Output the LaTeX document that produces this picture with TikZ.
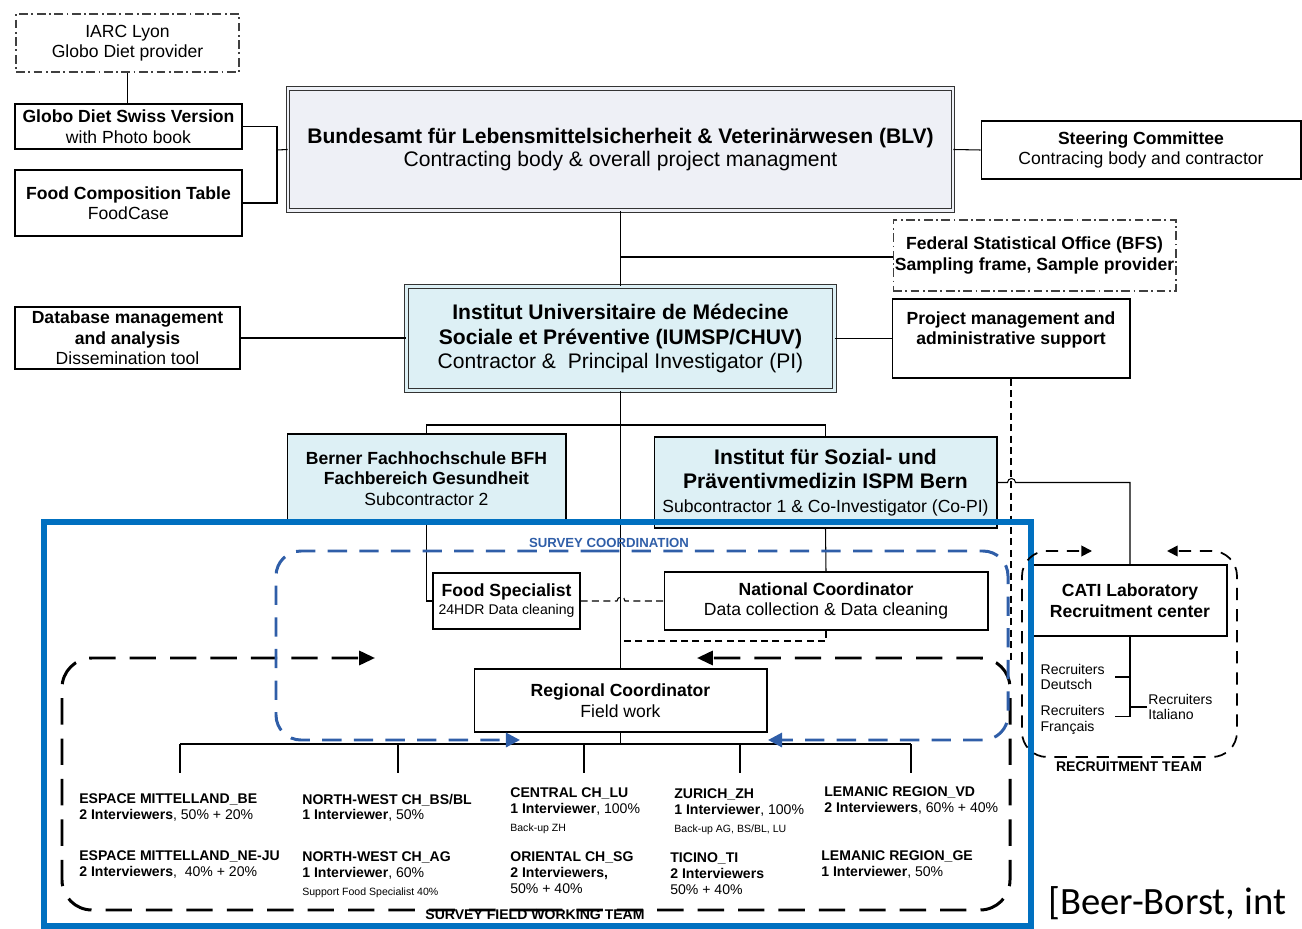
\documentclass[tikz,border=0pt]{standalone}
\usepackage{fontspec}
\setmainfont{Liberation Sans}
\newfontfamily\citefont{Carlito}
\usetikzlibrary{arrows.meta}
\definecolor{blvfill}{RGB}{238,240,246}
\definecolor{instfill}{RGB}{221,240,245}
\definecolor{frameblue}{RGB}{0,112,192}
\definecolor{coordblue}{RGB}{47,94,168}

\tikzset{
  box/.style={draw, line width=0.6pt, inner sep=0pt, align=center, font=\fontsize{10}{11.7}\selectfont},
  dotbox/.style={box, draw=black!75, dash pattern=on 5pt off 2pt on 1pt off 2pt},
  dblbox/.style={box, draw=black!80, double distance=1.4pt},
  conn/.style={line width=0.6pt},
  thindash/.style={conn, dash pattern=on 4pt off 2.5pt},
  regtext/.style={anchor=north west, inner sep=0pt, align=left, font=\fontsize{8}{9}\selectfont},
  rectext/.style={inner ysep=0pt, align=left, font=\fontsize{8}{9}\selectfont},
  teamlabel/.style={inner sep=0pt, font=\fontsize{8}{9}\selectfont\bfseries},
  fieldteam/.style={line width=1.7pt, dash pattern=on 15pt off 8pt, rounded corners=0.6cm},
  coordteam/.style={coordblue, line width=1.7pt, dash pattern=on 11pt off 7pt, rounded corners=0.5cm},
  recteam/.style={line width=1pt, dash pattern=on 7pt off 5pt, rounded corners=0.5cm}
}

\begin{document}
\begin{tikzpicture}[x=0.02cm, y=-0.02cm]
\useasboundingbox (0,0) rectangle (1302,929);

% upper boxes
\node[dotbox, minimum width=4.46cm, minimum height=1.16cm] (IARC) at (127.5,43) {IARC Lyon\\Globo Diet provider};
\node[box, minimum width=4.54cm, minimum height=0.9cm] (Globo) at (128.5,126.5) {\textbf{Globo Diet Swiss Version}\\with Photo book};
\node[box, minimum width=4.54cm, minimum height=1.32cm] (FCT) at (128.5,203) {\textbf{Food Composition Table}\\FoodCase};
\node[dblbox, fill=blvfill, double=blvfill, minimum width=13.3cm, minimum height=2.44cm, font=\fontsize{12}{13.6}\selectfont] (BLV) at (620.5,149.5) {\textbf{Bundesamt für Lebensmittelsicherheit \& Veterinärwesen (BLV)}\\Contracting body \& overall project managment};
\node[box, minimum width=6.4cm, minimum height=1.16cm] (Steer) at (1141,150) {\textbf{Steering Committee}\\Contracing body and contractor};
\node[dotbox, minimum width=5.66cm, minimum height=1.42cm, font=\fontsize{10}{11.7}\selectfont\bfseries] (BFS) at (1034.5,255.5) {Federal Statistical Office (BFS)\\Sampling frame, Sample provider};
\node[dblbox, fill=instfill, double=instfill, minimum width=8.56cm, minimum height=2.08cm, font=\fontsize{12}{13.9}\selectfont] (IUMSP) at (620.5,338.5) {\textbf{Institut Universitaire de Médecine}\\\textbf{Sociale et Préventive (IUMSP/CHUV)}\\Contractor \&\ \ Principal Investigator (PI)};
\node[box, minimum width=4.5cm, minimum height=1.24cm] (DB) at (127.5,338) {\textbf{Database management}\\\textbf{and analysis}\\Dissemination tool};
\node[box, minimum width=4.76cm, minimum height=1.58cm, font=\fontsize{10}{11.7}\selectfont\bfseries] (PM) at (1011,338.5) {Project management and\\administrative support\\\mbox{}};
\node[box, fill=instfill, minimum width=5.58cm, minimum height=1.78cm] (BFH) at (426.5,478.5) {\textbf{Berner Fachhochschule BFH}\\\textbf{Fachbereich Gesundheit}\\Subcontractor 2};
\node[box, fill=instfill, minimum width=6.86cm, minimum height=1.82cm, font=\fontsize{12}{13.6}\selectfont] (ISPM) at (825.5,482.5) {\textbf{Institut für Sozial- und}\\\textbf{Präventivmedizin ISPM Bern}\\{\fontsize{10}{12}\selectfont Subcontractor 1 \& Co-Investigator (Co-PI)}};

% coordination boxes
\node[box, minimum width=2.94cm, minimum height=1.12cm, font=\fontsize{10}{10.2}\selectfont] (FS) at (506.5,601) {\textbf{Food Specialist}\\{\fontsize{8}{9.6}\selectfont 24HDR Data cleaning}};
\node[box, minimum width=6.48cm, minimum height=1.16cm] (NC) at (826,601) {\textbf{National Coordinator}\\Data collection \& Data cleaning};
\node[box, minimum width=5.86cm, minimum height=1.26cm] (Reg) at (620.5,700.5) {\textbf{Regional Coordinator}\\Field work};
\node[box, minimum width=3.88cm, minimum height=1.42cm, font=\fontsize{10}{11.7}\selectfont\bfseries] (CATI) at (1130,600.5) {CATI Laboratory\\Recruitment center};
\node[rectext, anchor=east, inner xsep=0.2cm] (RecD) at (1115,677) {Recruiters\\Deutsch};
\node[rectext, anchor=east, inner xsep=0.2cm] (RecF) at (1115,720) {Recruiters\\Français};
\node[rectext, anchor=west, inner xsep=0.02cm] (RecI) at (1147,707) {Recruiters\\Italiano};

% connectors
\coordinate (jL) at (277,150);
\coordinate (jBFS) at (620.5,257);
\coordinate (jT) at (620.5,425);
\coordinate (jNC) at (620.5,641);
\coordinate (jB) at (620.5,744);
\coordinate (pmEnd) at (1011,660);
\draw[conn] (IARC.south) -- (IARC.south |- Globo.north);
\draw[conn] (Globo.east) -| (jL) |- (FCT.east);
\draw[conn] (jL) -- (BLV.west);
\draw[conn] (BLV.east) -- (Steer.west);
\draw[conn] (BLV.south) -- (IUMSP.north);
\draw[conn] (jBFS) -- (jBFS -| BFS.west);
\draw[conn] (DB.east) -- (DB.east -| IUMSP.west);
\draw[conn] (IUMSP.east) -- (PM.west);
\draw[thindash] (PM.south) -- (pmEnd);
\draw[conn] (IUMSP.south) -- (Reg.north);
\draw[conn] (BFH.north) |- (jT) -| (ISPM.north);
\draw[conn] (BFH.south) |- (FS.west);
\draw[thindash] (FS.east) -- ++(36.5,0) arc[start angle=180, end angle=0, radius=0.08cm] -- (NC.west);
\draw[conn] (ISPM.south) -- (NC.north);
\draw[thindash] (NC.south) |- (jNC);
\draw[conn] (Reg.south) -- (jB);
\foreach \n/\x in {d1/180, d2/398, d3/584, d4/740, d5/911}
  \coordinate (\n) at (\x,773);
\draw[conn] (d1 |- jB) -- (d4 |- jB);
\draw[line width=1pt] (d4 |- jB) -- (d5 |- jB);
\foreach \n in {d1, d2, d3, d5}
  \draw[conn] (\n |- jB) -- (\n);
\draw[line width=1pt] (d4 |- jB) -- (d4);
\draw[conn] (ISPM.east) -- ++(10,0) arc[start angle=180, end angle=0, radius=0.08cm] -| (CATI.north);
\draw[conn] (CATI.south) |- ([yshift=2pt]RecF.east);
\draw[conn] (RecD.east) -- (RecD.east -| CATI.south);
\draw[conn] (RecI.west) -- (RecI.west -| CATI.south);

% frame and teams
\draw[frameblue, line width=3.4pt] (44,522) rectangle (1031,926);
\draw[fieldteam, -{Triangle[length=9pt, width=8pt]}] (536,910) -- (62,910) -- (62,658) -- (375,658);
\draw[fieldteam, -{Triangle[length=9pt, width=8pt]}] (536,910) -- (1010,910) -- (1010,658) -- (697,658);
\draw[coordteam, -{Triangle[length=8pt, width=8pt]}] (600,551) -- (276,551) -- (276,740) -- (520,740);
\draw[coordteam, -{Triangle[length=8pt, width=8pt]}] (600,551) -- (1008,551) -- (1008,740) -- (768,740);
\draw[recteam, -{Triangle[length=6pt, width=6pt]}] (1130,757) -- (1022,757) -- (1022,551) -- (1092,551);
\draw[recteam, -{Triangle[length=6pt, width=6pt]}] (1130,757) -- (1237,757) -- (1237,551) -- (1167,551);
\node[teamlabel, text=coordblue, font=\fontsize{7.5}{9}\selectfont\bfseries] (SC) at (609,543) {SURVEY COORDINATION};
\node[teamlabel] (SFWT) at (535,915) {SURVEY FIELD WORKING TEAM};
\node[teamlabel] (RT) at (1129,767) {RECRUITMENT TEAM};

% regions
\node[regtext] (EMBE) at (79,793.5) {\textbf{ESPACE MITTELLAND\_BE}\\\textbf{2 Interviewers}, 50\% + 20\%};
\node[regtext] (EMNEJU) at (79,850.5) {\textbf{ESPACE MITTELLAND\_NE-JU}\\\textbf{2 Interviewers},\ \ 40\% + 20\%};
\node[regtext] (NWBSBL) at (302,793.5) {\textbf{NORTH-WEST CH\_BS/BL}\\\textbf{1 Interviewer}, 50\%};
\node[regtext] (NWAG) at (302,851.5) {\textbf{NORTH-WEST CH\_AG}\\\textbf{1 Interviewer}, 60\%\\[1pt]{\fontsize{6}{7}\selectfont Support Food Specialist 40\%}};
\node[regtext] (CLU) at (510,787.5) {\textbf{CENTRAL CH\_LU}\\\textbf{1 Interviewer}, 100\%\\[1pt]{\fontsize{6}{7}\selectfont Back-up ZH}};
\node[regtext] (OSG) at (510,851.5) {\textbf{ORIENTAL CH\_SG}\\\textbf{2 Interviewers,}\\50\% + 40\%};
\node[regtext] (ZH) at (674,788.5) {\textbf{ZURICH\_ZH}\\\textbf{1 Interviewer}, 100\%\\[1pt]{\fontsize{6}{7}\selectfont Back-up AG, BS/BL, LU}};
\node[regtext] (TI) at (670,852.5) {\textbf{TICINO\_TI}\\\textbf{2 Interviewers}\\50\% + 40\%};
\node[regtext] (VD) at (824,786.5) {\textbf{LEMANIC REGION\_VD}\\\textbf{2 Interviewers}, 60\% + 40\%};
\node[regtext] (GE) at (821,850.5) {\textbf{LEMANIC REGION\_GE}\\\textbf{1 Interviewer}, 50\%};

\node[anchor=base west, inner sep=0pt, font={\fontsize{22}{26}\citefont}] (cite) at (1048,914) {[Beer-Borst, int};
\end{tikzpicture}
\end{document}
